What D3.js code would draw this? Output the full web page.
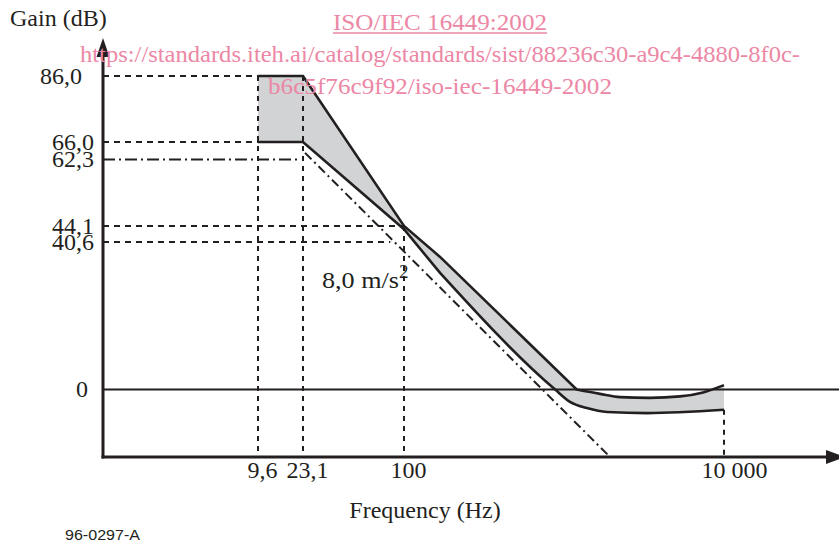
<!DOCTYPE html>
<html><head><meta charset="utf-8">
<script src="https://cdn.jsdelivr.net/npm/d3@7"></script>
<style>body{margin:0;background:#fff} svg{display:block}</style>
</head><body>
<svg id="c" width="839" height="544"></svg>
<script>
// ---- data ----
const freqTicks = [9.6, 23.1, 100, 10000];
const freqTickLabels = ["9,6", "23,1", "100", "10 000"];
const gainTicks = [86, 66, 62.3, 44.1, 40.6, 0];
const gainTickLabels = ["86,0", "66,0", "62,3", "44,1", "40,6", "0"];
const gainMin = -18.6;
// upper tolerance limit (Hz, dB): straight part then smooth tail
const upperLinear = [[9.6, 86], [23.1, 86], [100, 44.1], [168, 36.5], [1200, 0]];
const upperTail = [[1200, 0], [1680, -1.2], [2240, -2.1], [3450, -2.3], [5300, -1.9], [7400, -0.8], [10000, 1.2]];
// lower tolerance limit
const lowerLinear = [[9.6, 66], [23.1, 66], [100, 43.4], [168, 32.1]];
const lowerTail = [[168, 32.1], [880, 0], [1090, -3.4], [1390, -5.1], [1860, -6.2], [3300, -6.5], [10000, -5.6]];
// 8,0 m/s² reference (dash-dot)
const refFlat = [[21.5, 62.3]];
const refSlope = [[23.8, 63.7], [1940, -18.6]];
// guide lines: gain level -> frequency where it ends
const gainGuides = [[86, 9.6], [66, 9.6], [44.1, 100], [40.6, 82]];
// frequency guides: frequency -> gain where it starts
const freqGuides = [[9.6, 86], [23.1, 86], [100, 44.1], [10000, -5.6]];

// ---- drawing ----
const ink = "#231f20", pink = "#ec87a5", serif = "'Liberation Serif','Times New Roman',serif";
const svg = d3.select("#c");
const x = d3.scaleLog().domain(freqTicks).range([258, 303, 404, 724]);
const yDomain = [gainMin].concat(gainTicks.slice().sort((a, b) => a - b));
const y = d3.scaleLinear().domain(yDomain).range([457, 389.5, 242, 226, 159.5, 142, 76]);
const axisX = 103, axisY = y(gainMin), rightEdge = 839;

const gFill = svg.append("g"), gGuide = svg.append("g"), gZero = svg.append("g"),
      gCurve = svg.append("g"), gAxis = svg.append("g"), gText = svg.append("g"), gMark = svg.append("g");

const lineLin = d3.line().x(d => x(d[0])).y(d => y(d[1]));
const lineMono = d3.line().x(d => x(d[0])).y(d => y(d[1])).curve(d3.curveMonotoneX);
const joined = (a, b) => lineLin(a) + lineMono(b).replace(/^M[^A-Za-z]*/, "");

const upPath = gCurve.append("path").attr("d", joined(upperLinear, upperTail))
  .attr("fill", "none").attr("stroke", ink).attr("stroke-width", 2.6).attr("stroke-linejoin", "miter");
const lowPath = gCurve.append("path").attr("d", joined(lowerLinear, lowerTail))
  .attr("fill", "none").attr("stroke", ink).attr("stroke-width", 2.6).attr("stroke-linejoin", "miter");

function sample(node, n) {
  const L = node.getTotalLength();
  return d3.range(n + 1).map(i => { const p = node.getPointAtLength(L * i / n); return [p.x, p.y]; });
}
const pts = sample(upPath.node(), 500).concat(sample(lowPath.node(), 500).reverse());
gFill.append("path").attr("d", "M" + pts.join("L") + "Z").attr("fill", "#d1d3d4").attr("stroke", "none");

// guides
gainGuides.forEach(([g, f]) => {
  gGuide.append("line").attr("x1", axisX).attr("x2", x(f)).attr("y1", y(g)).attr("y2", y(g))
    .attr("stroke", ink).attr("stroke-width", 2).attr("stroke-dasharray", "6,5");
});
freqGuides.forEach(([f, g]) => {
  gGuide.append("line").attr("x1", x(f)).attr("x2", x(f)).attr("y1", y(g)).attr("y2", axisY)
    .attr("stroke", ink).attr("stroke-width", 2).attr("stroke-dasharray", "5,5");
});
// dash-dot reference
gGuide.append("line").attr("x1", axisX).attr("x2", x(refFlat[0][0])).attr("y1", y(refFlat[0][1])).attr("y2", y(refFlat[0][1]))
  .attr("stroke", ink).attr("stroke-width", 2).attr("stroke-dasharray", "12,4,2,4");
gGuide.append("path").attr("d", lineLin(refSlope)).attr("fill", "none")
  .attr("stroke", ink).attr("stroke-width", 2).attr("stroke-dasharray", "9,4,2,4");

// zero line
gZero.append("line").attr("x1", axisX).attr("x2", rightEdge).attr("y1", y(0)).attr("y2", y(0))
  .attr("stroke", ink).attr("stroke-width", 2);

// axes
gAxis.append("line").attr("x1", axisX).attr("x2", axisX).attr("y1", axisY + 1.5).attr("y2", 50)
  .attr("stroke", ink).attr("stroke-width", 3);
gAxis.append("line").attr("x1", axisX - 1.5).attr("x2", 832).attr("y1", axisY).attr("y2", axisY)
  .attr("stroke", ink).attr("stroke-width", 3);
gAxis.append("path").attr("d", `M${axisX - 6.5},57L${axisX},38L${axisX + 6.5},57Z`).attr("fill", ink);
gAxis.append("path").attr("d", `M826,${axisY - 7}L845,${axisY}L826,${axisY + 7}Z`).attr("fill", ink);

// tick labels via d3 axes
const yAx = gText.append("g").attr("transform", `translate(${axisX},0)`)
  .call(d3.axisLeft(y).tickValues(gainTicks).tickFormat((d, i) => gainTickLabels[i]).tickSize(0).tickPadding(9));
yAx.select(".domain").remove();
yAx.selectAll("text").attr("font-family", serif).attr("font-size", 24).attr("fill", ink)
  .attr("dx", d => d === 86 ? -12 : (d === 0 ? -6 : 0)).attr("dy", "0.3em");
const xAx = gText.append("g").attr("transform", `translate(0,${axisY})`)
  .call(d3.axisBottom(x).tickValues(freqTicks).tickFormat((d, i) => freqTickLabels[i]).tickSize(0).tickPadding(4));
xAx.select(".domain").remove();
xAx.selectAll("text").attr("font-family", serif).attr("font-size", 24).attr("fill", ink)
  .attr("dx", d => d === 10000 ? 10 : 4);

gText.append("text").attr("x", 10).attr("y", 26).attr("font-family", serif).attr("font-size", 24).attr("fill", ink).text("Gain (dB)");
gText.append("text").attr("x", 425).attr("y", 518).attr("text-anchor", "middle").attr("font-family", serif).attr("font-size", 24).attr("fill", ink).text("Frequency (Hz)");
const acc = gText.append("text").attr("x", 322).attr("y", 288).attr("font-family", serif).attr("font-size", 24).attr("fill", ink)
  .attr("textLength", 77).attr("lengthAdjust", "spacingAndGlyphs").text("8,0 m/s");
gText.append("text").attr("x", 399).attr("y", 278).attr("font-family", serif).attr("font-size", 19).attr("fill", ink).text("2");
gText.append("text").attr("x", 65).attr("y", 540).attr("font-family", "'Liberation Sans',Arial,sans-serif").attr("font-size", 14)
  .attr("textLength", 75).attr("lengthAdjust", "spacingAndGlyphs").attr("fill", ink).text("96-0297-A");

// watermark
gMark.append("text").attr("x", 440).attr("y", 30).attr("text-anchor", "middle").attr("font-family", serif).attr("font-size", 24)
  .attr("textLength", 214).attr("lengthAdjust", "spacingAndGlyphs").attr("fill", pink).text("ISO/IEC 16449:2002");
gMark.append("line").attr("x1", 333).attr("x2", 547).attr("y1", 33).attr("y2", 33).attr("stroke", pink).attr("stroke-width", 1.5);
gMark.append("text").attr("x", 440).attr("y", 62).attr("text-anchor", "middle").attr("font-family", serif).attr("font-size", 24)
  .attr("textLength", 720).attr("lengthAdjust", "spacingAndGlyphs").attr("fill", pink)
  .text("https://standards.iteh.ai/catalog/standards/sist/88236c30-a9c4-4880-8f0c-");
gMark.append("text").attr("x", 440).attr("y", 94).attr("text-anchor", "middle").attr("font-family", serif).attr("font-size", 24)
  .attr("textLength", 344).attr("lengthAdjust", "spacingAndGlyphs").attr("fill", pink)
  .text("b6c5f76c9f92/iso-iec-16449-2002");
</script>
</body></html>
